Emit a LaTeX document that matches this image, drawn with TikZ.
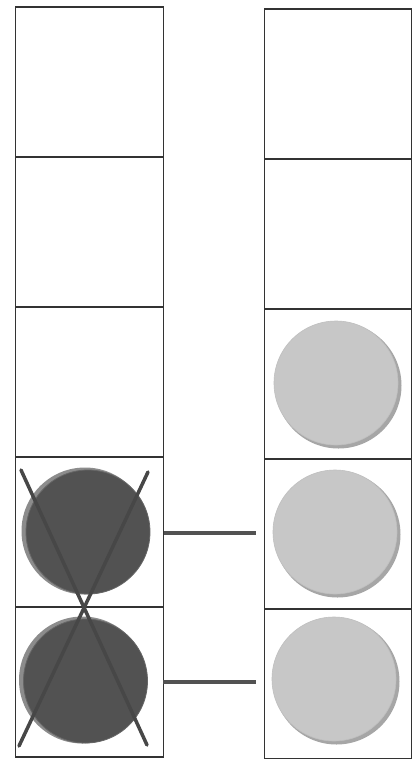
\documentclass[tikz,border=0pt]{standalone}
\begin{document}
\begin{tikzpicture}[x=1pt,y=-1pt,
  cell/.style={draw=black!80,line width=1.8pt,minimum width=148pt,minimum height=150pt,inner sep=0pt,anchor=north west},
  darkdisk/.style={fill=black!68,draw=black!60,line width=0.8pt},
  darkrim/.style={fill=black!45},
  lightdisk/.style={fill=black!22,draw=black!25,line width=0.6pt},
  lightrim/.style={fill=black!35},
  bar/.style={draw=black!68,line width=3.5pt},
  cross/.style={draw=black!72,line width=3.5pt,line cap=round}]
\useasboundingbox[fill=white] (0,0) rectangle (417,761);
% left column
\foreach \i/\y in {1/6,2/156,3/306,4/456,5/606}{
  \node[cell] (L\i) at (14.5,\y) {};
}
% right column
\foreach \i/\y in {1/8,2/158,3/308,4/458,5/607.5}{
  \node[cell,minimum width=147pt] (R\i) at (263.5,\y) {};
}
% dark disks (left)
\fill[darkrim] (85,531) circle (63.5pt);
\path[darkdisk] (88,532) circle (62pt);
\fill[darkrim] (82.5,680) circle (63.5pt);
\path[darkdisk] (85.5,681) circle (62pt);
% light disks (right)
\foreach \cx/\cy in {337/384,336/533,335/680}{
  \fill[lightrim] (\cx+1.5,\cy+1.5) circle (63pt);
  \path[lightdisk] (\cx-1,\cy-1) circle (62pt);
}
% cross
\coordinate (x1) at (21,470);
\coordinate (x2) at (147,745);
\coordinate (x3) at (148,472);
\coordinate (x4) at (19,746);
\draw[cross] (x1) -- (x2);
\draw[cross] (x3) -- (x4);
% bars between columns
\coordinate (a1) at (164,533);
\coordinate (a2) at (256,533);
\coordinate (b1) at (163,682);
\coordinate (b2) at (256,682);
\draw[bar] (a1) -- (a2);
\draw[bar] (b1) -- (b2);
\end{tikzpicture}
\end{document}
